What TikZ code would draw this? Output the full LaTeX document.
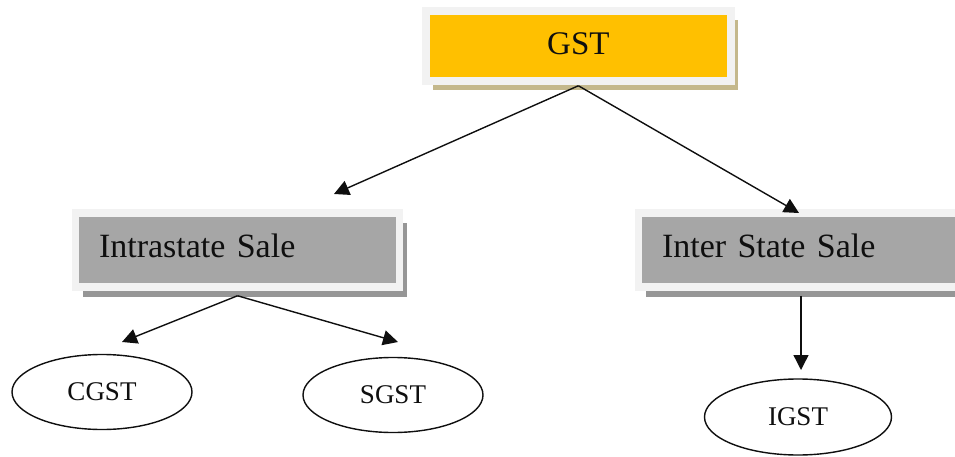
\documentclass[tikz,border=0pt]{standalone}
\usepackage{fontspec}
\setmainfont{Liberation Serif}
\usetikzlibrary{arrows.meta,shapes.geometric,shadows}
\definecolor{gstyellow}{RGB}{255,192,0}
\definecolor{framegray}{RGB}{242,242,242}
\definecolor{boxgray}{RGB}{166,166,166}
\definecolor{shadegray}{RGB}{150,150,150}
\definecolor{khaki}{RGB}{196,184,140}
\definecolor{ink}{RGB}{15,15,15}
\begin{document}
\begin{tikzpicture}[x=1pt,y=-1pt,
  framebox/.style={rectangle, draw=framegray, line width=7.5pt, inner sep=0pt, text=ink},
  topbox/.style={framebox, fill=gstyellow, minimum width=305pt, minimum height=70pt,
    font=\fontsize{33}{40}\selectfont, text depth=4pt,
    drop shadow={shadow xshift=7pt, shadow yshift=-9pt, fill=khaki, opacity=1}},
  salebox/.style={framebox, fill=boxgray, minimum height=74pt, inner xsep=23.5pt,
    font=\fontsize{34}{40}\selectfont, align=left, text depth=9pt,
    drop shadow={shadow xshift=7.5pt, shadow yshift=-10pt, fill=shadegray, opacity=1}},
  taxoval/.style={ellipse, draw=ink, line width=1.4pt, fill=white, inner sep=0pt,
    minimum width=180pt, minimum height=75pt, font=\fontsize{27}{32}\selectfont, text=ink},
  link/.style={draw=ink, line width=1.4pt, -{Triangle[length=15pt,width=15pt]}}
]
\useasboundingbox (0,0) rectangle (955,457);

\node[topbox] (gst) at (578.4,46) {GST};
\node[salebox, text width=277pt] (intra) at (237.5,250) {Intrastate Sale};
\node[salebox, text width=300pt] (inter) at (812,250) {Inter State Sale};

\node[taxoval] (cgst) at (102,392) {CGST};
\node[taxoval] (sgst) at (393,395) {SGST};
\node[taxoval, minimum width=187pt, minimum height=76pt] (igst) at (798,417) {IGST};

\coordinate (tipA) at (334,194);
\coordinate (tipB) at (799,213);
\coordinate (tipC) at (122,342);
\coordinate (tipD) at (398,342);
\coordinate (tipI) at (801,370);
\path (gst.south) ++(0,1) coordinate (gstfoot);
\path (intra.south) ++(0,5) coordinate (intrafoot);
\path (inter.south -| tipI) ++(0,5) coordinate (interfoot);

\draw[link] (gstfoot) -- (tipA);
\draw[link] (gstfoot) -- (tipB);
\draw[link] (intrafoot) -- (tipC);
\draw[link] (intrafoot) -- (tipD);
\draw[link] (interfoot) -- (tipI);
\end{tikzpicture}
\end{document}
